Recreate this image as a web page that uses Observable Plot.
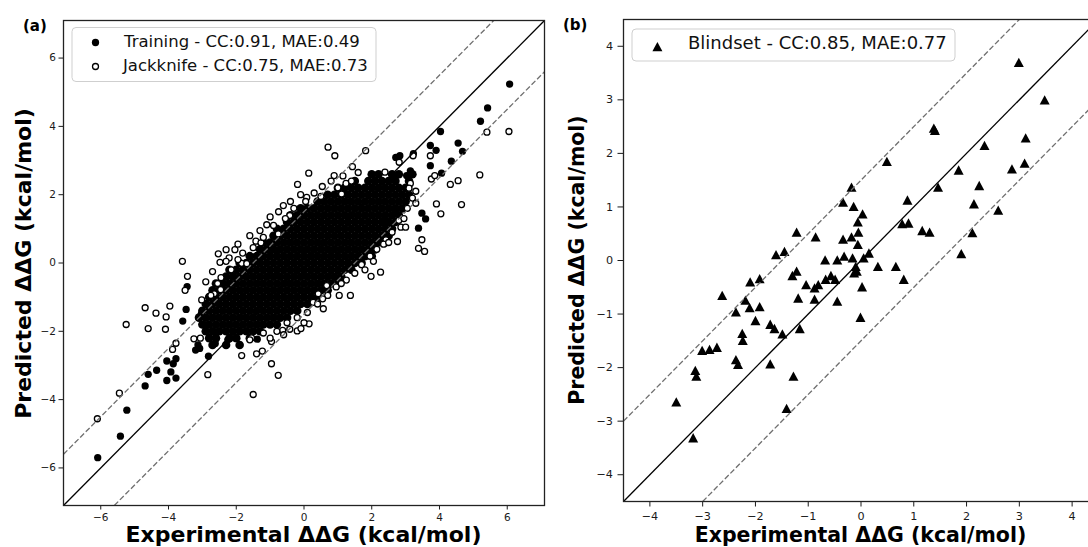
<!DOCTYPE html>
<html><head><meta charset="utf-8">
<script src="https://cdn.jsdelivr.net/npm/d3@7"></script>
<script src="https://cdn.jsdelivr.net/npm/@observablehq/plot@0.6"></script>
<style>
body{margin:0;background:#fff;}
#wrap{position:relative;width:1088px;height:547px;overflow:hidden;background:#fff;}
.panel{position:absolute;top:0;width:550px;height:547px;}
.panel svg{max-width:none !important;}
#overlay{position:absolute;left:0;top:0;pointer-events:none;}
</style></head><body><div id="wrap"><div id="pa" class="panel" style="left:0"></div><div id="pb" class="panel" style="left:550px"></div></div>
<script>
// ---------- data ----------
const ticksA = [-6, -4, -2, 0, 2, 4, 6];
const ticksB = [-4, -3, -2, -1, 0, 1, 2, 3, 4];
const domainA = [-7.1, 7.1];
const domainB = [-4.5, 4.5];
const bandOffsets = [0, 1.5, -1.5];
const axisLabelX = "Experimental ΔΔG (kcal/mol)";
const axisLabelY = "Predicted ΔΔG (kcal/mol)";
const legendA = ["Training - CC:0.91, MAE:0.49", "Jackknife - CC:0.75, MAE:0.73"];
const legendB = ["Blindset - CC:0.85, MAE:0.77"];
const panelTags = ["(a)", "(b)"];

// dense training cloud (estimated rows: [predicted, experimental...])
const trainingCore = [
  [2.6, 2.0, 2.2, 2.6, 2.8, 3.2],
  [2.4, 1.5, 1.9, 2.1, 2.3, 2.5, 2.7, 3.1],
  [2.2, 1.0, 1.2, 1.4, 1.6, 1.8, 2.0, 2.2, 2.4, 2.6, 2.8, 3.0],
  [2.0, 0.7, 0.9, 1.1, 1.3, 1.5, 1.7, 1.9, 2.1, 2.3, 2.5, 2.7, 2.9, 3.1],
  [1.8, 0.4, 0.6, 0.8, 1.0, 1.2, 1.4, 1.6, 1.8, 2.0, 2.2, 2.4, 2.6, 2.8, 3.0],
  [1.6, -0.1, 0.1, 0.3, 0.5, 0.7, 0.9, 1.1, 1.3, 1.5, 1.7, 1.9, 2.1, 2.3, 2.5, 2.7, 2.9],
  [1.4, -0.4, -0.2, 0.0, 0.2, 0.4, 0.6, 0.8, 1.0, 1.2, 1.4, 1.6, 1.8, 2.0, 2.2, 2.4, 2.6, 2.8],
  [1.2, -0.5, -0.3, -0.1, 0.1, 0.3, 0.5, 0.7, 0.9, 1.1, 1.3, 1.5, 1.7, 1.9, 2.1, 2.3, 2.5, 2.7],
  [1.0, -0.8, -0.6, -0.4, -0.2, 0.0, 0.2, 0.4, 0.6, 0.8, 1.0, 1.2, 1.4, 1.6, 1.8, 2.0, 2.2, 2.4, 2.6],
  [0.8, -0.9, -0.7, -0.5, -0.3, -0.1, 0.1, 0.3, 0.5, 0.7, 0.9, 1.1, 1.3, 1.5, 1.7, 1.9, 2.1, 2.3, 2.5],
  [0.6, -1.2, -1.0, -0.8, -0.6, -0.4, -0.2, 0.0, 0.2, 0.4, 0.6, 0.8, 1.0, 1.2, 1.4, 1.6, 1.8, 2.0, 2.2, 2.4],
  [0.4, -1.3, -1.1, -0.9, -0.7, -0.5, -0.3, -0.1, 0.1, 0.3, 0.5, 0.7, 0.9, 1.1, 1.3, 1.5, 1.7, 1.9, 2.1],
  [0.2, -1.6, -1.4, -1.2, -1.0, -0.8, -0.6, -0.4, -0.2, 0.0, 0.2, 0.4, 0.6, 0.8, 1.0, 1.2, 1.4, 1.6, 1.8, 2.0],
  [0.0, -1.9, -1.7, -1.5, -1.3, -1.1, -0.9, -0.7, -0.5, -0.3, -0.1, 0.1, 0.3, 0.5, 0.7, 0.9, 1.1, 1.3, 1.5, 1.7],
  [-0.2, -2.2, -2.0, -1.8, -1.6, -1.4, -1.2, -1.0, -0.8, -0.6, -0.4, -0.2, 0.0, 0.2, 0.4, 0.6, 0.8, 1.0, 1.2, 1.4],
  [-0.4, -2.3, -2.1, -1.9, -1.7, -1.5, -1.3, -1.1, -0.9, -0.7, -0.5, -0.3, -0.1, 0.1, 0.3, 0.5, 0.7, 0.9, 1.1],
  [-0.6, -2.6, -2.4, -2.2, -2.0, -1.8, -1.6, -1.4, -1.2, -1.0, -0.8, -0.6, -0.4, -0.2, 0.0, 0.2, 0.4, 0.6, 0.8, 1.0],
  [-0.8, -2.7, -2.5, -2.3, -2.1, -1.9, -1.7, -1.5, -1.3, -1.1, -0.9, -0.7, -0.5, -0.3, -0.1, 0.1, 0.3, 0.5, 0.7],
  [-1.0, -2.8, -2.6, -2.4, -2.2, -2.0, -1.8, -1.6, -1.4, -1.2, -1.0, -0.8, -0.6, -0.4, -0.2, 0.0, 0.2, 0.4],
  [-1.2, -2.9, -2.7, -2.5, -2.3, -2.1, -1.9, -1.7, -1.5, -1.3, -1.1, -0.9, -0.7, -0.5, -0.3, -0.1, 0.1],
  [-1.4, -3.0, -2.8, -2.6, -2.4, -2.2, -2.0, -1.8, -1.6, -1.4, -1.2, -1.0, -0.8, -0.6, -0.4, -0.2],
  [-1.6, -3.1, -2.9, -2.7, -2.5, -2.3, -2.1, -1.9, -1.7, -1.5, -1.3, -1.1, -0.9, -0.7, -0.5],
  [-1.8, -3.0, -2.8, -2.6, -2.4, -2.2, -2.0, -1.8, -1.6, -1.4, -1.2, -1.0, -0.8],
  [-2.0, -2.9, -2.7, -2.5, -2.3, -2.1, -1.9, -1.7, -1.5, -1.3],
  [-2.2, -2.8, -2.6, -2.2, -2.0, -1.6],
  [-2.4, -2.7, -2.3, -1.9]
];

// individually visible training points [experimental, predicted]
const trainingOutliers = [
  [-6.09,-5.70],[-5.42,-5.07],[-5.23,-4.31],[-4.69,-3.60],[-4.60,-3.26],[-4.35,-3.14],
  [-4.05,-2.87],[-4.05,-3.44],[-3.93,-3.19],[-3.86,-2.95],[-3.78,-2.80],[-3.78,-3.37],
  [-3.58,-1.70],[-3.48,-1.36],[-3.45,-0.69],[-3.20,-2.55],[-3.13,-2.40],[-3.08,-2.50],
  [-2.82,-2.73],[-2.62,-2.36],[-2.25,-2.25],[-1.38,-2.23],[-2.90,-1.83],[-3.03,-1.49],[-2.64,-2.02],
  [6.07,5.24],[5.42,4.54],[5.21,4.15],[4.03,3.85],[4.55,3.51],[3.73,3.44],[3.90,3.30],
  [4.68,3.27],[4.35,2.98],[3.73,2.85],[4.06,2.63],[3.23,3.20],[2.83,3.14],[3.48,1.46],
  [3.59,1.29],[3.38,1.02],[2.68,2.46],[3.03,2.56],[3.14,2.70],[2.71,3.09],[2.20,0.75],
  [2.45,1.20],[2.70,1.50],[2.90,2.00]
];

// jackknife points [experimental, predicted]
const jackknife = [
  [-6.10,-4.56],[-5.45,-3.81],[-5.25,-1.80],[-4.69,-1.31],[-4.37,-1.47],[-3.96,-1.26],
  [-4.07,-1.58],[-4.60,-1.92],[-4.09,-1.94],[-3.78,-2.35],[-3.88,-2.53],[-3.51,-0.80],
  [-3.44,-0.39],[-3.59,0.05],[-3.25,-2.22],[-3.06,-2.20],[-3.02,-1.08],[-2.65,-0.90],
  [-2.46,-0.78],[-2.45,-0.43],[-2.48,0.02],[-2.21,0.15],[-2.53,0.27],[-2.30,0.39],
  [-2.04,0.39],[-1.81,0.29],[-1.84,-0.01],[-1.69,-0.02],[-1.42,0.64],[-1.27,0.59],
  [-1.10,1.12],[-0.76,0.85],[-0.61,1.68],[-0.42,1.39],[-0.19,2.30],[0.08,1.92],
  [0.14,2.63],[0.54,2.24],[0.71,3.39],[0.91,3.14],[0.89,2.56],[1.24,2.33],[1.43,2.82],
  [1.82,3.29],[1.11,2.02],[2.39,2.66],
  [-2.84,-3.27],[-1.84,-2.71],[-1.40,-2.66],[-1.23,-2.58],[-0.96,-2.30],[-0.96,-2.95],
  [-0.76,-3.29],[-1.50,-3.85],[-1.55,-2.19],[-0.63,-1.97],[-0.42,-1.94],[-0.20,-1.99],
  [-0.09,-1.92],[0.15,-1.78],[0.57,-1.34],[0.27,-1.15],[0.42,-0.90],[0.67,-0.66],
  [1.04,-0.95],[1.37,-0.95],[1.98,-0.39],[2.26,-0.27],[2.42,0.68],[2.76,0.63],
  [2.86,1.05],[3.00,1.05],[3.48,0.68],[3.38,0.43],[3.56,0.34],[3.91,1.73],[4.04,1.44],
  [4.65,1.71],[4.32,2.30],[4.55,2.41],[5.19,2.58],[5.40,3.83],[6.05,3.85],[3.76,2.46],
  [3.86,2.56],[3.22,3.14],[2.81,2.95],[3.73,3.14],[3.14,2.33],[3.10,2.19],
  [-2.90,-0.55],[-2.70,-0.25],[-2.30,0.05],[-1.95,0.55],[-1.60,0.80],[-1.30,0.95],
  [-1.00,1.35],[-0.75,1.50],[-0.40,1.80],[-0.10,2.00],[0.30,2.05],[0.80,2.40],
  [1.15,2.55],[1.60,2.65],
  [-1.20,-2.05],[-0.80,-2.00],[-0.50,-1.75],[-0.20,-1.60],[0.10,-1.45],[0.40,-1.20],
  [0.70,-0.95],[0.95,-0.70],[1.25,-0.50],[1.50,-0.30],[1.70,-0.05],[1.95,0.20],
  [2.15,0.40],[2.35,0.55],[2.60,0.90],[2.80,1.25],[3.05,1.60],[3.20,1.90],[3.30,2.10],
  [-2.75,-0.95],[-2.55,-0.60],[-2.15,-0.20],[-1.95,0.10],[-1.50,0.45],[-1.20,0.75],
  [-0.90,1.10],[-0.55,1.30],[-0.30,1.60],[0.05,1.80],[0.50,1.95],[1.00,2.20],[1.40,2.40],
  [-1.60,-2.25],[-1.00,-2.20],[-0.60,-2.10],[0.00,-1.75],[0.55,-1.05],[1.10,-0.60],
  [1.80,-0.20],[2.05,0.05],[2.50,0.60],[2.95,1.30],[3.30,1.75]
];

// blind set points [experimental, predicted]
const blindset = [
  [2.99,3.70],[3.48,3.00],[1.38,2.47],[1.40,2.43],[2.34,2.15],[3.12,2.29],[0.49,1.85],
  [1.85,1.69],[2.86,1.71],[3.10,1.82],[1.46,1.37],[2.24,1.40],[-0.18,1.37],[-0.34,1.09],
  [-0.14,1.01],[0.03,0.87],[0.88,1.13],[2.14,1.06],[2.60,0.94],[-0.06,0.72],[0.78,0.69],
  [0.90,0.70],[-0.05,0.53],[1.16,0.56],[1.30,0.53],[2.11,0.52],[-1.22,0.53],[-0.86,0.44],
  [-0.34,0.40],[-0.18,0.44],[-0.06,0.30],[1.90,0.13],[-1.61,0.11],[-1.45,0.17],
  [-0.68,0.01],[-0.45,0.01],[-0.32,0.08],[-0.16,0.05],[0.05,0.05],[0.15,0.14],
  [0.32,-0.11],[0.66,-0.11],[-0.10,-0.11],[-0.08,-0.20],[-0.13,-0.23],[-1.22,-0.20],
  [-1.30,-0.28],[-0.57,-0.28],[0.81,-0.35],[-1.92,-0.34],[-2.10,-0.40],[-2.63,-0.65],
  [-1.04,-0.45],[-0.88,-0.51],[-0.81,-0.45],[-0.67,-0.35],[-0.49,-0.35],[-0.88,-0.72],
  [-1.19,-0.70],[-0.45,-0.76],[0.02,-0.49],[-2.19,-0.74],[-2.11,-0.88],[-1.92,-0.86],
  [-2.37,-0.96],[-2.00,-1.12],[-1.72,-1.19],[-1.64,-1.27],[-1.49,-1.37],[-1.16,-1.27],
  [-0.01,-1.06],[-2.25,-1.36],[-2.24,-1.49],[-3.01,-1.68],[-2.87,-1.66],[-2.73,-1.62],
  [-2.37,-1.85],[-2.33,-1.94],[-1.72,-1.93],[-3.14,-2.05],[-3.12,-2.16],[-1.28,-2.16],
  [-3.50,-2.64],[-1.41,-2.76],[-3.18,-3.31]
];

// ---------- build ----------
const toPts = arr => arr.map(([x, y]) => ({x, y}));
const corePts = trainingCore.flatMap(([y, ...xs]) => xs.map(x => ({x, y})));
const outPts = toPts(trainingOutliers);
const jackPts = toPts(jackknife);
const blindPts = toPts(blindset);

function refLines(domain) {
  const [a, b] = domain;
  return bandOffsets.map(o => ({
    o,
    x1: Math.max(a, a - o), y1: Math.max(a, a - o) + o,
    x2: Math.min(b, b - o), y2: Math.min(b, b - o) + o
  }));
}
const fmt = d3.format("d");
const triangleUp = {
  draw(context, size) {
    const r = Math.sqrt(size / Math.PI), h = r * 0.93;
    context.moveTo(0, -h); context.lineTo(r, h); context.lineTo(-r, h); context.closePath();
  }
};
const lineMarks = (refs) => [
  Plot.link(refs.filter(d => d.o !== 0), {x1: "x1", y1: "y1", x2: "x2", y2: "y2", stroke: "#6f6f6f", strokeWidth: 1.3, strokeDasharray: "5.5,2.4"}),
  Plot.link(refs.filter(d => d.o === 0), {x1: "x1", y1: "y1", x2: "x2", y2: "y2", stroke: "#000", strokeWidth: 1.3})
];
const baseStyle = fs => ({fontFamily: '"DejaVu Sans", sans-serif', fontSize: fs, color: "#1a1a1a", background: "transparent", maxWidth: "none"});

const plotA = Plot.plot({
  width: 550, height: 547,
  marginLeft: 63, marginRight: 6, marginTop: 20, marginBottom: 42,
  x: {domain: domainA, ticks: ticksA, tickSize: 4.5, tickPadding: 4, tickFormat: fmt, label: null},
  y: {domain: domainA, ticks: ticksA, tickSize: 4.5, tickPadding: 3, tickFormat: fmt, label: null},
  style: baseStyle("10.5px"),
  marks: [
    Plot.dot(corePts, {x: "x", y: "y", r: 4.3, fill: "#000"}),
    Plot.dot(outPts, {x: "x", y: "y", r: 3.65, fill: "#000"}),
    Plot.dot(jackPts, {x: "x", y: "y", r: 3.0, fill: "#fff", stroke: "#000", strokeWidth: 1.3}),
    ...lineMarks(refLines(domainA)),
    Plot.frame({stroke: "#222", strokeWidth: 1.3})
  ]
});
document.getElementById("pa").appendChild(plotA);

const plotB = Plot.plot({
  width: 550, height: 547,
  marginLeft: 73, marginRight: 2, marginTop: 19, marginBottom: 46,
  x: {domain: domainB, ticks: ticksB, tickSize: 5.5, tickPadding: 5, tickFormat: fmt, label: null},
  y: {domain: domainB, ticks: ticksB, tickSize: 5.5, tickPadding: 5, tickFormat: fmt, label: null},
  style: baseStyle("11.2px"),
  marks: [
    Plot.dot(blindPts, {x: "x", y: "y", r: 5, symbol: triangleUp, fill: "#000", stroke: "none"}),
    ...lineMarks(refLines(domainB)),
    Plot.frame({stroke: "#222", strokeWidth: 1.3})
  ]
});
document.getElementById("pb").appendChild(plotB);

// ---------- overlay: labels & legends ----------
const svg = d3.select("#wrap").append("svg").attr("id", "overlay")
  .attr("width", 1088).attr("height", 547)
  .style("font-family", '"DejaVu Sans", sans-serif');

function boldText(x, y, txt, size, rotate) {
  const t = svg.append("text").attr("font-size", size).attr("font-weight", "bold").attr("fill", "#000").text(txt);
  if (rotate) t.attr("transform", `translate(${x},${y}) rotate(-90)`).attr("text-anchor", "middle");
  else t.attr("x", x).attr("y", y).attr("text-anchor", "middle");
}
// panel tags
svg.append("text").attr("x", 23).attr("y", 31).attr("font-size", 15).attr("font-weight", "bold").text(panelTags[0]);
svg.append("text").attr("x", 563).attr("y", 30).attr("font-size", 15).attr("font-weight", "bold").text(panelTags[1]);
// axis labels
boldText(303.5, 541.5, axisLabelX, 22, false);
boldText(30.9, 263.5, axisLabelY, 22, true);
boldText(860.5, 541.5, axisLabelX, 20.5, false);
boldText(584.3, 260, axisLabelY, 20.5, true);

// legend A
svg.append("rect").attr("x", 72).attr("y", 27.5).attr("width", 304).attr("height", 54).attr("rx", 4)
  .attr("fill", "#fff").attr("fill-opacity", 0.8).attr("stroke", "#cfcfcf").attr("stroke-width", 1);
svg.append("circle").attr("cx", 95.5).attr("cy", 42.5).attr("r", 3.65).attr("fill", "#000");
svg.append("circle").attr("cx", 95.5).attr("cy", 66.5).attr("r", 3).attr("fill", "#fff").attr("stroke", "#000").attr("stroke-width", 1.3);
svg.append("text").attr("x", 124).attr("y", 46.5).attr("font-size", 16.5).attr("fill", "#111").text(legendA[0]);
svg.append("text").attr("x", 123).attr("y", 71).attr("font-size", 16.5).attr("fill", "#111").text(legendA[1]);

// legend B
svg.append("rect").attr("x", 632).attr("y", 29).attr("width", 323).attr("height", 32).attr("rx", 4)
  .attr("fill", "#fff").attr("fill-opacity", 0.8).attr("stroke", "#cfcfcf").attr("stroke-width", 1);
svg.append("path").attr("transform", "translate(657.4,46.7)")
  .attr("d", d3.symbol(triangleUp, 25 * Math.PI)()).attr("fill", "#000");
svg.append("text").attr("x", 688).attr("y", 48.5).attr("font-size", 18).attr("fill", "#111").text(legendB[0]);
</script></body></html>
